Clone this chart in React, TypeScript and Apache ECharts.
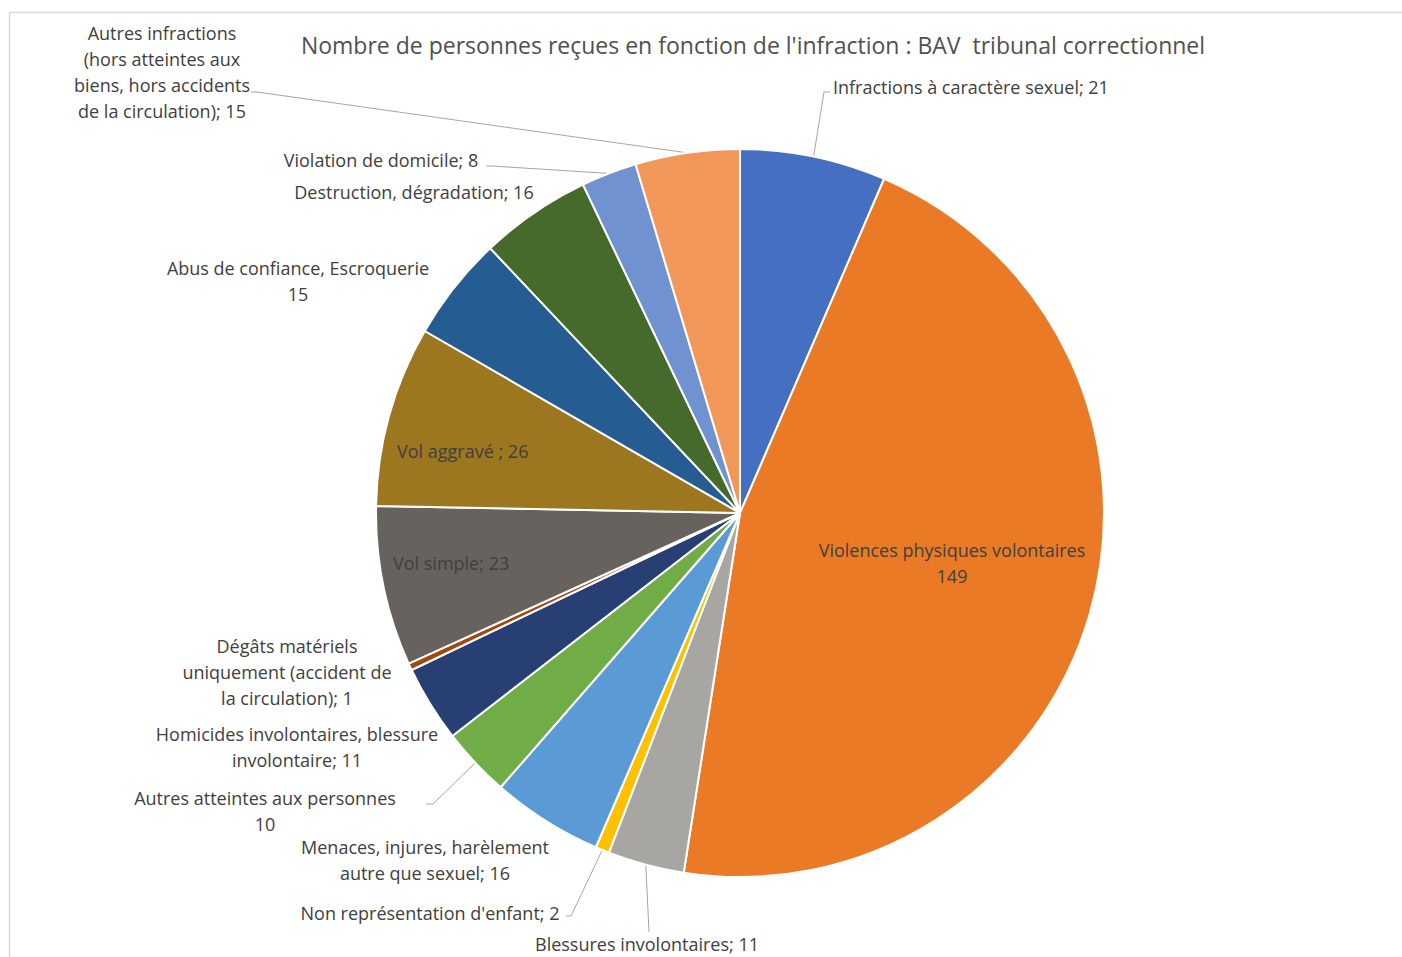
import React, { useEffect, useRef } from "react";
import * as echarts from "echarts";

// ---- data ----
const categories = [
  "Infractions à caractère sexuel",
  "Violences physiques volontaires",
  "Blessures involontaires",
  "Non représentation d'enfant",
  "Menaces, injures, harèlement autre que sexuel",
  "Autres atteintes aux personnes",
  "Homicides involontaires, blessure involontaire",
  "Dégâts matériels uniquement (accident de la circulation)",
  "Vol simple",
  "Vol aggravé ",
  "Abus de confiance, Escroquerie",
  "Destruction, dégradation",
  "Violation de domicile",
  "Autres infractions (hors atteintes aux biens, hors accidents de la circulation)",
];
const values = [21, 149, 11, 2, 16, 10, 11, 1, 23, 26, 15, 16, 8, 15];
const colors = [
  "#4570C2", "#EB7A27", "#A8A6A3", "#FFC000", "#5B9BD5", "#70AD47", "#283F74",
  "#A0480F", "#67625E", "#9D7620", "#255C91", "#456A2B", "#7092D0", "#F1975A",
];
// wrapped label names (as wrapped in the reference)
const labelNames = [
  "Infractions à caractère sexuel",
  "Violences physiques volontaires",
  "Blessures involontaires",
  "Non représentation d'enfant",
  "Menaces, injures, harèlement\nautre que sexuel",
  "Autres atteintes aux personnes",
  "Homicides involontaires, blessure\ninvolontaire",
  "Dégâts matériels\nuniquement (accident de\nla circulation)",
  "Vol simple",
  "Vol aggravé ",
  "Abus de confiance, Escroquerie",
  "Destruction, dégradation",
  "Violation de domicile",
  "Autres infractions\n(hors atteintes aux\nbiens, hors accidents\nde la circulation)",
];
const labelSeparators = ["; ", "\n", "; ", "; ", "; ", "\n", "; ", "; ", "; ", "; ", "\n", "; ", "; ", "; "];
const titleText = "Nombre de personnes reçues en fonction de l'infraction : BAV  tribunal correctionnel";

// ---- layout ----
const CX = 740;
const CY = 513;
const R = 364;
// label anchor: [x, y, align]
const labelPos: [number, number, string][] = [
  [833, 87, "left"],
  [952, 563, "center"],
  [647, 944, "center"],
  [430, 913, "center"],
  [425, 860, "center"],
  [265, 811, "center"],
  [297, 747, "center"],
  [287, 672, "center"],
  [393, 563, "left"],
  [397, 451, "left"],
  [298, 281, "center"],
  [414, 192, "center"],
  [381, 160, "center"],
  [162, 72, "center"],
];
// leader line tails (label side), null = no line
const leaderTails: (number[][] | null)[] = [
  [[824, 92], [830, 92]],
  null,
  [[649, 932], [649, 932]],
  [[571, 916], [566, 916]],
  null,
  [[433, 804], [426, 804]],
  null,
  null,
  null,
  null,
  null,
  null,
  [[492, 166], [486, 166]],
  [[257, 92], [251, 92]],
];

const total = values.reduce((a, b) => a + b, 0);
const cumulative = values.map((_, i) => values.slice(0, i).reduce((a, b) => a + b, 0));

export default function App() {
  const ref = useRef<HTMLDivElement>(null);
  useEffect(() => {
    if (!ref.current) return;
    const chart = echarts.init(ref.current, null, { renderer: "svg" });
    const fontFamily = "'Open Sans', sans-serif";
    chart.setOption({
      animation: false,
      backgroundColor: "#ffffff",
      title: {
        text: titleText,
        left: 748,
        top: 28,
        textAlign: "center",
        textStyle: { fontFamily, fontSize: 23, fontWeight: "normal", color: "#505050" },
      },
      graphic: [
        {
          type: "rect",
          shape: { x: 9.5, y: 12.5, width: 1400, height: 960 },
          style: { fill: "none", stroke: "#D9D9D9", lineWidth: 1.5 },
          silent: true,
          z: -1,
        },
      ],
      series: [
        {
          type: "pie",
          center: [CX, CY],
          radius: R,
          startAngle: 90,
          clockwise: true,
          avoidLabelOverlap: false,
          itemStyle: { borderColor: "#ffffff", borderWidth: 2 },
          label: {
            show: true,
            position: "outside",
            fontFamily,
            fontSize: 18,
            lineHeight: 26,
            color: "#404040",
            formatter: (p: any) => labelNames[p.dataIndex] + labelSeparators[p.dataIndex] + p.value,
          },
          labelLine: { show: true, lineStyle: { color: "#A6A6A6", width: 1 }, smooth: false },
          labelLayout: (params: any) => {
            const i = params.dataIndex;
            const p = labelPos[i];
            const out: any = { x: p[0], y: p[1], align: p[2], verticalAlign: "middle" };
            const tail = leaderTails[i];
            if (tail) {
              const mid = ((cumulative[i] + values[i] / 2) / total) * Math.PI * 2;
              const ex = CX + R * Math.sin(mid);
              const ey = CY - R * Math.cos(mid);
              out.labelLinePoints = [[ex, ey], tail[0], tail[1]];
            }
            return out;
          },
          data: categories.map((name, i) => ({
            name,
            value: values[i],
            itemStyle: { color: colors[i] },
            labelLine: { show: leaderTails[i] !== null },
          })),
        },
      ],
    });
    return () => chart.dispose();
  }, []);
  return (
    <div
      ref={ref}
      style={{ position: "fixed", left: 0, top: 0, width: 1402, height: 957, background: "#fff" }}
    />
  );
}
